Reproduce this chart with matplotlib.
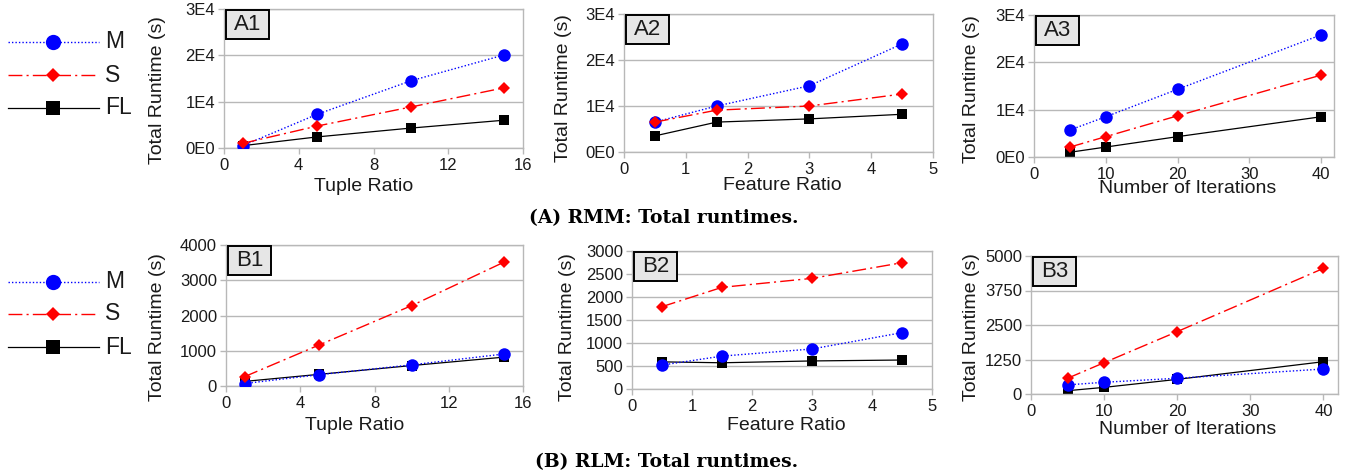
import numpy as np
import matplotlib
matplotlib.use("Agg")
import matplotlib.pyplot as plt
from matplotlib.lines import Line2D
from matplotlib.patches import Rectangle

plt.rcParams['font.family'] = ['Liberation Sans', 'DejaVu Sans']

# ---- data ----
tuple_ratio = [1, 5, 10, 15]
feature_ratio = [0.5, 1.5, 3, 4.5]
num_iters = [5, 10, 20, 40]

# RMM total runtimes (s)
a1_M = [500, 7300, 14500, 20100]
a1_S = [1000, 4750, 8850, 13000]
a1_FL = [500, 2400, 4300, 6000]

a2_M = [6500, 10000, 14400, 23500]
a2_S = [6500, 9100, 10000, 12600]
a2_FL = [3500, 6500, 7200, 8200]

a3_M = [5700, 8500, 14300, 25800]
a3_S = [2100, 4300, 8700, 17300]
a3_FL = [1000, 2100, 4300, 8500]

# RLM total runtimes (s)
b1_M = [70, 320, 600, 910]
b1_S = [265, 1160, 2280, 3520]
b1_FL = [130, 330, 580, 820]

b2_M = [520, 715, 870, 1225]
b2_S = [1790, 2210, 2405, 2745]
b2_FL = [590, 570, 610, 630]

b3_M = [330, 425, 570, 905]
b3_S = [570, 1135, 2260, 4550]
b3_FL = [120, 240, 530, 1170]

W, H = 1359, 476
fig = plt.figure(figsize=(W / 100, H / 100), dpi=100)

GRID = '#b8b8b8'
TXT = '#1a1a1a'

style_M = dict(color='#0000ff', linestyle=(0, (1, 1.5)), linewidth=1.0,
               marker='o', markersize=9, markeredgewidth=0)
style_S = dict(color='#ff0000', linestyle=(0, (10, 3, 1.5, 3)), linewidth=1.0,
               marker='D', markersize=6.3, markeredgewidth=0)
style_FL = dict(color='black', linestyle='-', linewidth=0.9,
                marker='s', markersize=7.8, markeredgewidth=0)


def fx(px):
    return px / W


def fy(py):
    return 1 - py / H


def panel(box, xs, M, S, FL, xlim, xticks, ylim, yticks, ylabels,
          xlabel, xlab_xy, ylab_xy, tag):
    left, right, top, bottom = box
    ax = fig.add_axes([fx(left), fy(bottom), (right - left) / W, (bottom - top) / H])
    ax.plot(xs, M, zorder=3, **style_M)
    ax.plot(xs, S, zorder=4, **style_S)
    ax.plot(xs, FL, zorder=2, **style_FL)
    ax.set_xlim(*xlim)
    ax.set_ylim(*ylim)
    ax.set_xticks(xticks)
    ax.set_yticks(yticks)
    ax.set_yticklabels(ylabels)
    ax.yaxis.grid(True, color=GRID, linewidth=1.0)
    ax.set_axisbelow(True)
    for sp in ax.spines.values():
        sp.set_color(GRID)
        sp.set_linewidth(1.0)
    ax.tick_params(colors=GRID, labelcolor=TXT, labelsize=12, length=4, width=1.0, pad=2.5)
    ax.tick_params(axis='x', pad=3.5)
    fig.text(fx(xlab_xy[0]), fy(xlab_xy[1]), xlabel, ha='center', va='center',
             fontsize=14, color=TXT)
    fig.text(fx(ylab_xy[0]), fy(ylab_xy[1]), 'Total Runtime (s)', ha='center', va='center',
             rotation=90, fontsize=14, color=TXT)
    # panel tag box, fixed pixel size at top-left corner
    bw, bh = 43, 29
    aw, ah = right - left, bottom - top
    rect = Rectangle((2 / aw, 1 - (bh + 1) / ah), bw / aw, bh / ah, transform=ax.transAxes,
                     facecolor='#e6e6e6', edgecolor='black', linewidth=1.4, zorder=6,
                     clip_on=False)
    ax.add_patch(rect)
    ax.text((2 + bw / 2) / aw, 1 - (bh / 2 + 1) / ah, tag, transform=ax.transAxes,
            ha='center', va='center', fontsize=16, color=TXT, zorder=7)
    return ax


a_ticks = [0, 10000, 20000, 30000]
a_labels = ['0E0', '1E4', '2E4', '3E4']

panel((224, 523, 9, 148), tuple_ratio, a1_M, a1_S, a1_FL, (0, 16), [0, 4, 8, 12, 16],
      (0, 30000), a_ticks, a_labels, 'Tuple Ratio', (364, 187), (158, 90), 'A1')
panel((624, 933, 14, 152), feature_ratio, a2_M, a2_S, a2_FL, (0, 5), [0, 1, 2, 3, 4, 5],
      (0, 30000), a_ticks, a_labels, 'Feature Ratio', (782, 186), (564, 88), 'A2')
panel((1034, 1334, 15, 157), num_iters, a3_M, a3_S, a3_FL, (0, 41.8), [0, 10, 20, 30, 40],
      (0, 30000), a_ticks, a_labels, 'Number of Iterations', (1188, 189), (972, 89), 'A3')

panel((226, 523, 245, 386), tuple_ratio, b1_M, b1_S, b1_FL, (0, 16), [0, 4, 8, 12, 16],
      (0, 4000), [0, 1000, 2000, 3000, 4000], ['0', '1000', '2000', '3000', '4000'],
      'Tuple Ratio', (355, 425), (157, 327), 'B1')
panel((632, 932, 251, 389), feature_ratio, b2_M, b2_S, b2_FL, (0, 5), [0, 1, 2, 3, 4, 5],
      (0, 3000), [0, 500, 1000, 1500, 2000, 2500, 3000],
      ['0', '500', '1000', '1500', '2000', '2500', '3000'],
      'Feature Ratio', (786, 425), (567, 327), 'B2')
panel((1031, 1338, 256, 394), num_iters, b3_M, b3_S, b3_FL, (0, 42), [0, 10, 20, 30, 40],
      (0, 5000), [0, 1250, 2500, 3750, 5000], ['0', '1250', '2500', '3750', '5000'],
      'Number of Iterations', (1188, 429), (972, 327), 'B3')

# legends on the left (drawn by hand so rows line up with the reference)
names = ['M', 'S', 'FL']
styles = [style_M, style_S, style_FL]
leg_marker_size = [11, 7.5, 10.5]
for rows in ([42, 75, 108], [282, 314, 347]):
    for name, st, ms, ry in zip(names, styles, leg_marker_size, rows):
        line_st = {k: v for k, v in st.items() if not k.startswith('marker')}
        fig.add_artist(Line2D([fx(8), fx(99)], [fy(ry), fy(ry)], transform=fig.transFigure,
                              **line_st))
        fig.add_artist(Line2D([fx(53)], [fy(ry)], transform=fig.transFigure, linestyle='none',
                              marker=st['marker'], markersize=ms, color=st['color'],
                              markeredgewidth=0))
        fig.text(fx(105), fy(ry), name, ha='left', va='center', fontsize=16.5, color=TXT)

# captions
cap = dict(ha='center', va='center', fontsize=13.5, fontweight='bold', family='DejaVu Serif')
fig.text(fx(664), fy(218), '(A) RMM: Total runtimes.', **cap)
fig.text(fx(667), fy(462), '(B) RLM: Total runtimes.', **cap)

fig.savefig('out.png', dpi=100)
